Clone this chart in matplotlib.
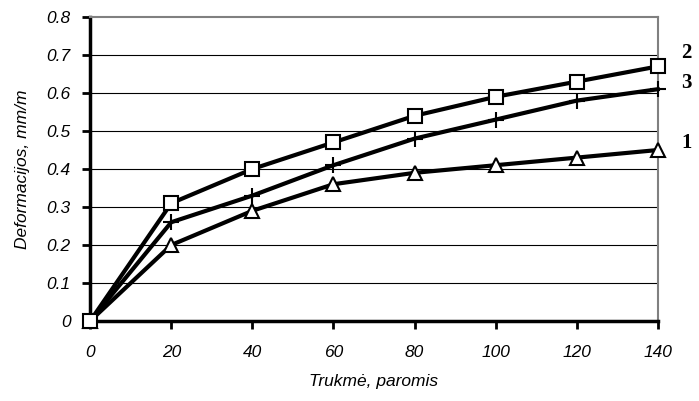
import matplotlib.pyplot as plt

days = [0, 20, 40, 60, 80, 100, 120, 140]
series_1 = [0, 0.20, 0.29, 0.36, 0.39, 0.41, 0.43, 0.45]
series_2 = [0, 0.31, 0.40, 0.47, 0.54, 0.59, 0.63, 0.67]
series_3 = [0, 0.26, 0.33, 0.41, 0.48, 0.53, 0.58, 0.61]
labels = ["1", "2", "3"]
label_y = [0.468, 0.705, 0.626]

plt.rcParams["font.family"] = "Liberation Sans"

fig = plt.figure(figsize=(6.99, 4.01), dpi=100)
ax = fig.add_axes([0.129, 0.1995, 0.812, 0.758])

for y in [0.1, 0.2, 0.3, 0.4, 0.5, 0.6, 0.7]:
    ax.axhline(y, color="black", lw=0.8, zorder=1)

style = dict(color="black", lw=3, markerfacecolor="white", markeredgecolor="black",
             markeredgewidth=1.5, clip_on=False, zorder=3)
ax.plot(days, series_1, marker="^", markersize=10, **style)
ax.plot(days, series_3, marker="+", markersize=12, **style)
ax.plot(days, series_2, marker="s", markersize=10, **style)

ax.set_xlim(0, 140)
ax.set_ylim(0, 0.8)
ax.set_xticks(days)
ax.set_yticks([0, 0.1, 0.2, 0.3, 0.4, 0.5, 0.6, 0.7, 0.8])
ax.set_yticklabels(["0", "0.1", "0.2", "0.3", "0.4", "0.5", "0.6", "0.7", "0.8"])

for lab in ax.get_xticklabels() + ax.get_yticklabels():
    lab.set_fontstyle("italic")
    lab.set_fontsize(12.5)

ax.tick_params(axis="both", direction="out", length=6, width=2, color="black")
ax.tick_params(axis="x", pad=11)
ax.tick_params(axis="y", pad=8)
ax.spines["left"].set_linewidth(2.5)
ax.spines["bottom"].set_linewidth(2.5)
ax.spines["top"].set_color("gray")
ax.spines["right"].set_color("gray")
ax.spines["top"].set_linewidth(1.5)
ax.spines["right"].set_linewidth(1.5)

ax.set_xlabel("Trukmė, paromis", fontsize=12.5, fontstyle="italic", labelpad=10)
ax.set_ylabel("Deformacijos, mm/m", fontsize=12.5, fontstyle="italic", labelpad=12)

for lab, y in zip(labels, label_y):
    ax.text(1.05, y, lab, transform=ax.get_yaxis_transform(), fontsize=15,
            fontweight="bold", family="Liberation Serif", va="center", ha="center")

fig.savefig("out.png", dpi=100)
